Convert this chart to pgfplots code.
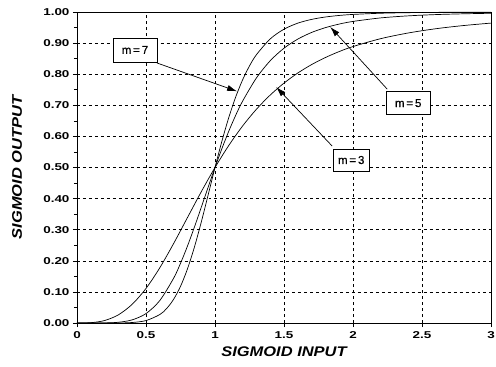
\documentclass[border=0pt]{standalone}
\usepackage{fontspec}
\setmainfont{Liberation Sans}
\newfontfamily\tickfont[FakeStretch=1.35]{Liberation Sans}
\newfontfamily\labfont[FakeStretch=1.18]{Liberation Sans}
\newfontfamily\boxfont[FakeBold=0.6]{Liberation Sans}
\usepackage{pgfplots}
\pgfplotsset{compat=1.18}
\usetikzlibrary{arrows.meta}
\begin{document}
\begin{tikzpicture}[x=1bp,y=1bp]
\begin{axis}[
  name=ax,
  scale only axis, width=414bp, height=311bp,
  xmin=0, xmax=3, ymin=0, ymax=1,
  xtick={0,0.5,1,1.5,2,2.5,3},
  xticklabels={0,0.5,1,1.5,2,2.5,3},
  ytick={0,0.1,...,1.0},
  minor y tick num=1,
  yticklabel style={/pgf/number format/.cd,fixed,fixed zerofill,precision=2},
  /pgf/number format/assume math mode=true,
  ticklabel style={font=\tickfont\bfseries\fontsize{10}{12}\selectfont},
  xticklabel style={yshift=-1bp},
  tick align=outside, tick pos=left,
  major tick length=4bp, minor tick length=3bp,
  tick style={black, line width=0.6pt},
  grid=major,
  major grid style={black, dashed, line width=0.6pt},
  axis line style={line width=0.9pt},
  xlabel={SIGMOID INPUT},
  ylabel={SIGMOID OUTPUT},
  label style={font=\labfont\bfseries\itshape\fontsize{14}{16}\selectfont},
  xlabel style={at={(axis description cs:0.5,0)}, anchor=center, yshift=-29bp},
  ylabel style={at={(axis description cs:0,0.5)}, anchor=center, yshift=60bp},
  clip=true,
]
% m = 3
\addplot[black, line width=0.7pt, smooth] coordinates {
(0,0) (0.1,0.001) (0.2,0.0079) (0.3,0.0263) (0.4,0.0602) (0.5,0.1111)
(0.6,0.1776) (0.7,0.2554) (0.8,0.3386) (0.9,0.4216) (1.0,0.5)
(1.1,0.5710) (1.2,0.6334) (1.3,0.6872) (1.4,0.7329) (1.5,0.7714)
(1.6,0.8038) (1.7,0.8309) (1.8,0.8536) (1.9,0.8728) (2.0,0.8889)
(2.2,0.9142) (2.4,0.9325) (2.6,0.9462) (2.8,0.9564) (3.0,0.9643)};
% m = 5
\addplot[black, line width=0.7pt, smooth] coordinates {
(0,0) (0.2,0.0003) (0.3,0.0024) (0.4,0.0101) (0.5,0.0303) (0.6,0.0722)
(0.7,0.1439) (0.75,0.1918) (0.8,0.2468) (0.85,0.3073) (0.9,0.3713)
(0.95,0.4362) (1.0,0.5) (1.05,0.5607) (1.1,0.6169) (1.15,0.6679)
(1.2,0.7133) (1.3,0.7878) (1.4,0.8432) (1.5,0.8836) (1.6,0.9129)
(1.7,0.9342) (1.8,0.9497) (1.9,0.9612) (2.0,0.9697) (2.2,0.9810)
(2.4,0.9876) (2.6,0.9917) (2.8,0.9942) (3.0,0.9959)};
% m = 7
\addplot[black, line width=0.7pt, smooth] coordinates {
(0,0) (0.3,0.0002) (0.4,0.0016) (0.5,0.0078) (0.6,0.0272) (0.65,0.0467)
(0.7,0.0761) (0.75,0.1178) (0.8,0.1734) (0.85,0.2428) (0.9,0.3235)
(0.95,0.4112) (1.0,0.5) (1.05,0.5846) (1.1,0.6609) (1.15,0.7268)
(1.2,0.7818) (1.25,0.8266) (1.3,0.8625) (1.4,0.9134) (1.5,0.9447)
(1.6,0.9641) (1.7,0.9762) (1.8,0.9839) (1.9,0.9889) (2.0,0.9922)
(2.2,0.9960) (2.4,0.9978) (2.6,0.9988) (2.8,0.9993) (3.0,0.9995)};
% annotations
\draw[line width=0.7pt, -{Latex[length=10bp,width=6bp]}] (axis cs:0.58,0.836) -- (axis cs:1.16,0.745);
\draw[line width=0.7pt, -{Latex[length=10bp,width=6bp]}] (axis cs:2.248,0.752) -- (axis cs:1.835,0.952);
\draw[line width=0.7pt, -{Latex[length=10bp,width=6bp]}] (axis cs:1.849,0.569) -- (axis cs:1.443,0.759);
\node[draw, fill=white, line width=0.8pt, inner sep=3bp, minimum width=44bp, minimum height=24bp, font=\boxfont\fontsize{11.5}{13}\selectfont] at (axis cs:0.42,0.878) {m\,=\,7};
\node[draw, fill=white, line width=0.8pt, inner sep=3bp, minimum width=44bp, minimum height=23bp, font=\boxfont\fontsize{11.5}{13}\selectfont] at (axis cs:2.40,0.707) {m\,=\,5};
\node[draw, fill=white, line width=0.8pt, inner sep=3bp, minimum width=36bp, minimum height=22bp, font=\boxfont\fontsize{11.5}{13}\selectfont] at (axis cs:1.987,0.524) {m\,=\,3};
\end{axis}
\pgfresetboundingbox
\path[use as bounding box] ([shift={(-77bp,-44bp)}]ax.south west) rectangle ([shift={(5bp,12bp)}]ax.north east);
\end{tikzpicture}
\end{document}
